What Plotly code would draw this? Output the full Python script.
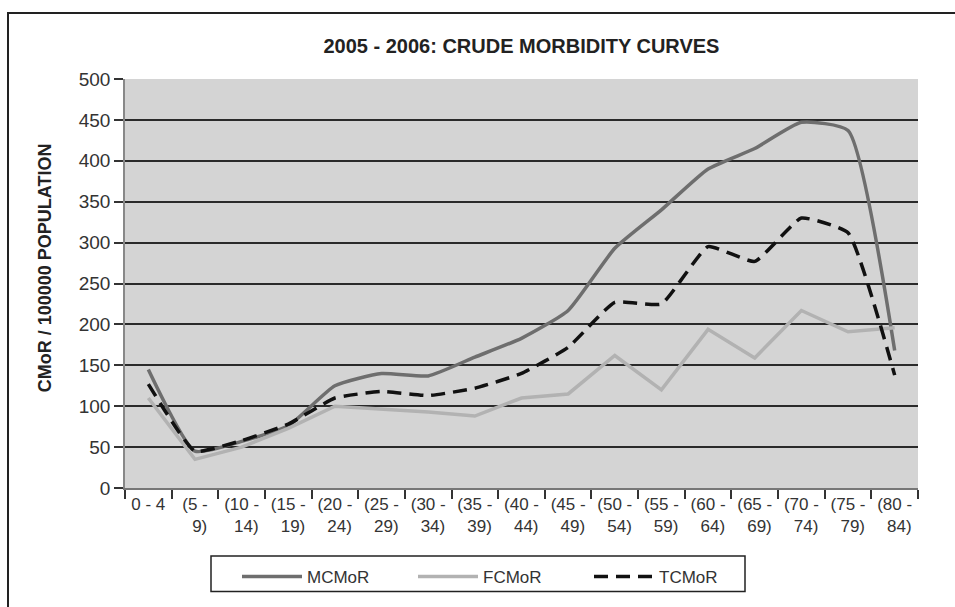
import plotly.graph_objects as go

categories = ["0 - 4", "(5 - 9)", "(10 - 14)", "(15 - 19)", "(20 - 24)", "(25 - 29)",
              "(30 - 34)", "(35 - 39)", "(40 - 44)", "(45 - 49)", "(50 - 54)", "(55 - 59)",
              "(60 - 64)", "(65 - 69)", "(70 - 74)", "(75 - 79)", "(80 - 84)"]
tick_labels = ["0 - 4", "(5 -<br>\u00a0\u00a09)", "(10 -<br>\u00a0\u00a014)", "(15 -<br>\u00a0\u00a019)",
               "(20 -<br>\u00a0\u00a024)", "(25 -<br>\u00a0\u00a029)", "(30 -<br>\u00a0\u00a034)",
               "(35 -<br>\u00a0\u00a039)", "(40 -<br>\u00a0\u00a044)", "(45 -<br>\u00a0\u00a049)",
               "(50 -<br>\u00a0\u00a054)", "(55 -<br>\u00a0\u00a059)", "(60 -<br>\u00a0\u00a064)",
               "(65 -<br>\u00a0\u00a069)", "(70 -<br>\u00a0\u00a074)", "(75 -<br>\u00a0\u00a079)",
               "(80 -<br>\u00a0\u00a084)"]

mcmor = [145, 45, 57, 76, 125, 140, 137, 160, 183, 217, 293, 340, 390, 415, 447, 437, 168]
fcmor = [110, 35, 50, 73, 100, 97, 93, 88, 110, 115, 162, 120, 194, 159, 217, 191, 196]
tcmor = [127, 45, 58, 78, 110, 118, 113, 122, 140, 172, 227, 225, 295, 277, 330, 312, 138]

FONT = "Liberation Sans, Arial, sans-serif"

fig = go.Figure()
fig.add_trace(go.Scatter(x=categories, y=mcmor, name="MCMoR", mode="lines",
                         line=dict(color="#6e6e6e", width=3.5, shape="spline", smoothing=0.5)))
fig.add_trace(go.Scatter(x=categories, y=fcmor, name="FCMoR", mode="lines",
                         line=dict(color="#b2b2b2", width=3.5)))
fig.add_trace(go.Scatter(x=categories, y=tcmor, name="TCMoR", mode="lines",
                         line=dict(color="#111111", width=3.5, dash="14px,8px",
                                   shape="spline", smoothing=0.4)))

L, R, T, B = 125, 37, 79, 113
W, H = 955, 607
pw = W - L - R
ph = H - T - B

def px_x(x):
    return (x - L) / pw

def px_y(y):
    return (H - B - y) / ph

fig.update_layout(
    width=W, height=H,
    margin=dict(l=L, r=R, t=T, b=B),
    paper_bgcolor="white",
    plot_bgcolor="#d4d4d4",
    font=dict(family=FONT, color="#222222", size=16),
    title=dict(text="<b>2005 - 2006: CRUDE MORBIDITY CURVES</b>", x=0.546, xanchor="center",
               y=1 - 46 / H, yanchor="middle", font=dict(size=20, color="#222222", family=FONT)),
    showlegend=True,
    legend=dict(orientation="h", x=px_x(237), xanchor="left", y=px_y(566), yanchor="top",
                bgcolor="rgba(0,0,0,0)", borderwidth=0,
                font=dict(size=17, family=FONT, color="#333333"),
                itemwidth=60, entrywidth=101, entrywidthmode="pixels"),
    xaxis=dict(type="category", tickmode="array", tickvals=categories, ticktext=tick_labels,
               range=[-0.5, len(categories) - 0.5],
               tickson="boundaries", ticks="outside", ticklen=9, tickcolor="#333333", tickwidth=1.5,
               showgrid=False, showline=True, linecolor="#777777", linewidth=1.5,
               tickfont=dict(size=17, family=FONT, color="#333333"), automargin=False),
    yaxis=dict(range=[0, 500], dtick=50, tick0=0, ticks="outside", ticklen=9, tickcolor="#333333",
               tickwidth=1.5, showgrid=True, gridcolor="#2a2a2a", gridwidth=2,
               zeroline=False, showline=True, linecolor="#888888", linewidth=1.5,
               tickfont=dict(size=19, family=FONT, color="#333333"), automargin=False),
    annotations=[dict(text="<b>CMoR / 100000 POPULATION</b>", textangle=-90,
                      xref="paper", yref="paper", x=px_x(45), y=px_y(271),
                      xanchor="center", yanchor="middle", showarrow=False,
                      font=dict(size=18, family=FONT, color="#222222"))],
    shapes=[dict(type="rect", xref="paper", yref="paper",
                 x0=px_x(8), x1=px_x(975), y0=px_y(640), y1=px_y(12),
                 line=dict(color="#222222", width=2), fillcolor="rgba(0,0,0,0)", layer="below"),
            dict(type="rect", xref="paper", yref="paper",
                 x0=px_x(211), x1=px_x(745), y0=px_y(599), y1=px_y(563),
                 line=dict(color="#222222", width=1.5), fillcolor="white", layer="below")],
)

fig.write_html("out.html")
